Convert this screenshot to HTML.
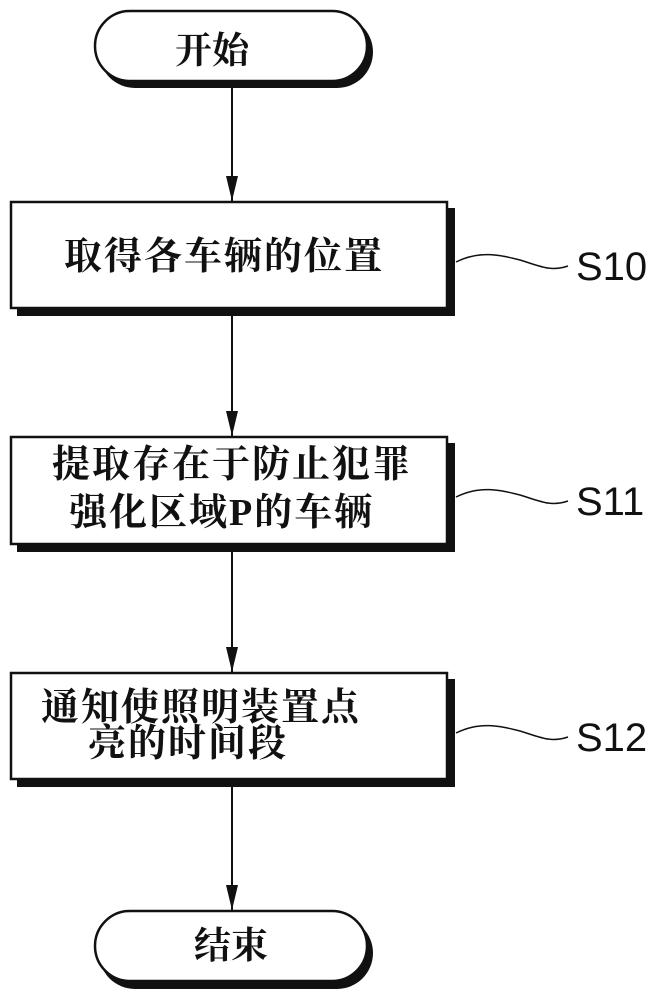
<!DOCTYPE html>
<html><head><meta charset="utf-8"><style>
html,body{margin:0;padding:0;background:#fff;}
svg text{font-family:"Liberation Serif","Noto Serif CJK SC","Noto Sans CJK SC",serif;fill:#111;font-weight:bold;}
.l{font-family:"Liberation Sans",sans-serif;font-weight:normal;}
</style></head><body>
<svg width="663" height="1000" viewBox="0 0 663 1000" xmlns="http://www.w3.org/2000/svg">
<g fill="none" stroke="#111">
<rect x="99" y="16" width="274" height="72" rx="36" fill="#111" stroke="none"/>
<rect x="95" y="11" width="272" height="70" rx="35" fill="#fff" stroke-width="2.5"/>
<rect x="17" y="208" width="438" height="108" fill="#111" stroke="none"/>
<rect x="11" y="202" width="436" height="106" fill="#fff" stroke-width="2.5"/>
<rect x="17" y="443" width="438" height="109" fill="#111" stroke="none"/>
<rect x="11" y="437" width="436" height="107" fill="#fff" stroke-width="2.5"/>
<rect x="17" y="679" width="438" height="108" fill="#111" stroke="none"/>
<rect x="11" y="673" width="436" height="106" fill="#fff" stroke-width="2.5"/>
<rect x="99" y="917" width="274" height="72" rx="36" fill="#111" stroke="none"/>
<rect x="95" y="911" width="272" height="70" rx="35" fill="#fff" stroke-width="2.5"/>
<line x1="232" y1="88" x2="232" y2="202" stroke-width="2"/>
<line x1="232" y1="316" x2="232" y2="437" stroke-width="2"/>
<line x1="232" y1="552" x2="232" y2="673" stroke-width="2"/>
<line x1="232" y1="787" x2="232" y2="911" stroke-width="2"/>
<path d="M456,262 C480,250 500,255 520,260 C540,266 550,272 568,266" stroke-width="1.5"/>
<path d="M456,497 C480,485 500,490 520,495 C540,501 550,507 568,501" stroke-width="1.5"/>
<path d="M456,733 C480,721 500,726 520,731 C540,737 550,743 568,737" stroke-width="1.5"/>
</g>
<g fill="#111">
<polygon points="226,176 238,176 232,201"/>
<polygon points="226,411 238,411 232,436"/>
<polygon points="226,647 238,647 232,672"/>
<polygon points="226,885 238,885 232,910"/>
</g>
<text x="212" y="63" font-size="37" text-anchor="middle">开始</text>
<text x="231" y="958" font-size="37" text-anchor="middle">结束</text>
<text x="64" y="269" font-size="38" letter-spacing="2">取得各车辆的位置</text>
<text x="52" y="477" font-size="38" letter-spacing="2">提取存在于防止犯罪</text>
<text x="69" y="525" font-size="38" letter-spacing="2">强化区域P的车辆</text>
<text x="41" y="720" font-size="38" letter-spacing="2">通知使照明装置点</text>
<text x="88" y="756" font-size="38" letter-spacing="2">亮的时间段</text>
<text class="l" x="576" y="280" font-size="40">S10</text>
<text class="l" x="576" y="515" font-size="40">S11</text>
<text class="l" x="576" y="751" font-size="40">S12</text>
</svg>
</body></html>
